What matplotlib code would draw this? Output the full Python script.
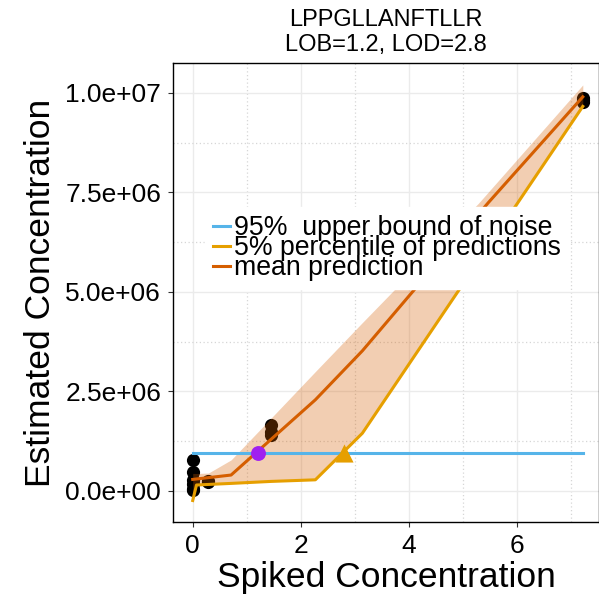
import numpy as np
from matplotlib import pyplot as plt
from matplotlib.ticker import MultipleLocator, FuncFormatter

plt.rcParams['font.family'] = ['Liberation Sans', 'DejaVu Sans']

# Pontos medidos (concentração adicionada x estimada)
x_pts = [0, 0, 0, 0, 0, 0, 0.29, 0.29, 1.45, 1.45, 1.45, 7.22, 7.22, 7.22]
y_pts = [0.78e6, 0.48e6, 0.27e6, 0.17e6, 0.05e6, 0.02e6, 0.22e6, 0.25e6,
         1.65e6, 1.47e6, 1.40e6, 9.88e6, 9.82e6, 9.78e6]

# Curva média das predições
x_mean = [0, 0.71, 2.27, 3.14, 5.47, 7.22]
y_mean = [0.29e6, 0.40e6, 2.29e6, 3.52e6, 7.24e6, 9.9e6]

# Percentil 5% das predições
x_low = [0, 0.07, 0.71, 1.45, 2.27, 3.14, 7.22]
y_low = [-0.24e6, 0.15e6, 0.19e6, 0.24e6, 0.28e6, 1.45e6, 9.66e6]

# Faixa das predições (inferior / superior)
x_band = [0, 0.07, 0.29, 0.71, 1.45, 2.27, 3.14, 5.29, 7.22]
band_low = [-0.24e6, 0.15e6, 0.16e6, 0.19e6, 0.24e6, 0.28e6, 1.45e6, 5.8e6, 9.66e6]
band_high = [0.44e6, 0.44e6, 0.45e6, 0.78e6, 1.83e6, 3.0e6, 4.23e6, 7.23e6, 10.2e6]

# Limite superior do ruído, LOB e LOD
noise = 0.955e6
noise_x = [0, 7.22]
lob = 1.2
lod = 2.8

fig = plt.figure(figsize = (5.99, 6.03), dpi = 100)
ax = fig.add_axes([0.2888, 0.1343, 0.7112, 0.7612])

# grade
ax.xaxis.set_major_locator(MultipleLocator(2))
ax.xaxis.set_minor_locator(MultipleLocator(1))
ax.yaxis.set_major_locator(MultipleLocator(2.5e6))
ax.yaxis.set_minor_locator(MultipleLocator(1.25e6))
ax.grid(which = 'major', color = '#EBEBEB', lw = 1, ls = '-')
ax.grid(which = 'minor', color = '#D6D6D6', lw = 0.9, ls = (0, (1, 2)))
ax.set_axisbelow(True)

ax.scatter(x_pts, y_pts, s = 90, color = 'black', zorder = 2, linewidths = 0)
ax.fill_between(x_band, band_low, band_high, color = '#D55E00', alpha = 0.3,
                linewidth = 0, zorder = 3)
ax.plot(noise_x, [noise, noise], color = '#56B4E9', lw = 2.2, zorder = 4,
        label = '95%  upper bound of noise')
ax.plot(x_low, y_low, color = '#E69F00', lw = 2.2, zorder = 4,
        label = '5% percentile of predictions')
ax.plot(x_mean, y_mean, color = '#D55E00', lw = 2.2, zorder = 4,
        label = 'mean prediction')
ax.scatter([lob], [noise], s = 115, color = '#A020F0', zorder = 5, linewidths = 0)
ax.scatter([lod], [noise], s = 170, marker = '^', color = '#E69F00', zorder = 5,
           linewidths = 0)

ax.set_xlim(-0.365, 7.52)
ax.set_ylim(-0.78e6, 10.75e6)

ax.yaxis.set_major_formatter(FuncFormatter(lambda v, p: f'{v:.1e}'))
ax.tick_params(which = 'major', labelsize = 19, length = 3.5, width = 0.8,
               color = '#333333', pad = 5)
ax.tick_params(which = 'minor', length = 0)
for s in ax.spines.values():
    s.set_linewidth(1)
    s.set_color('black')

ax.set_xlabel('Spiked Concentration', fontsize = 25.5, labelpad = 2)
ax.set_ylabel('Estimated Concentration', fontsize = 25.5, labelpad = 6)
ax.set_title('LPPGLLANFTLLR\nLOB=1.2, LOD=2.8', fontsize = 17, pad = 9,
             linespacing = 1.12)

leg = ax.legend(loc = 'upper left', bbox_to_anchor = (0.075, 0.686),
                fontsize = 19.2, frameon = True, framealpha = 1, edgecolor = 'white',
                fancybox = False, borderaxespad = 0, borderpad = 0.3,
                handlelength = 0.65, handletextpad = 0.15, labelspacing = -0.22)
leg.set_zorder(6)

fig.savefig('out.png', dpi = 100)
